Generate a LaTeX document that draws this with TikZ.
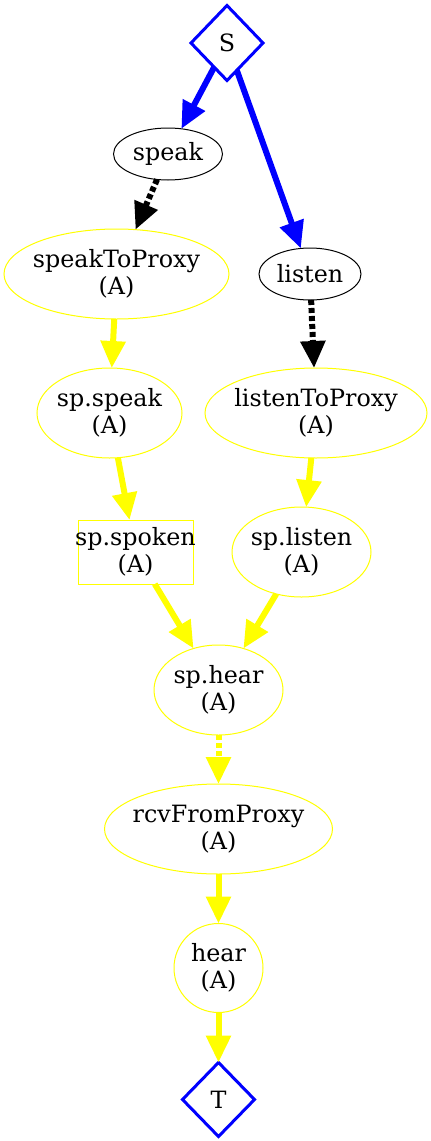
\documentclass[tikz,border=0pt]{standalone}
\usepackage{fontspec}
\setmainfont{DejaVu Serif}
\usetikzlibrary{arrows.meta,shapes.geometric}
\definecolor{gvyellow}{RGB}{255,255,0}
\definecolor{gvblue}{RGB}{0,0,255}
\begin{document}
\begin{tikzpicture}[x=0.5pt,y=-0.5pt,
  every node/.style={inner sep=0pt, outer sep=0pt, align=center, font=\fontsize{11.9}{13.2}\selectfont},
  blackell/.style={ellipse, draw=black, line width=0.5pt},
  yell/.style={ellipse, draw=gvyellow, line width=0.5pt, inner xsep=-6pt},
  ybox/.style={rectangle, draw=gvyellow, line width=0.5pt, inner xsep=-2pt},
  ycirc/.style={circle, draw=gvyellow, line width=0.5pt},
  bdia/.style={diamond, draw=gvblue, line width=1.5pt, minimum width=36pt, minimum height=37.5pt},
  conn/.style={line width=3pt, draw=#1, -{Triangle[length=13.5pt,width=12pt,fill=#1]}},
  dconn/.style={conn=#1, dash pattern=on 2.5pt off 1.5pt}
]
\useasboundingbox (0,0) rectangle (431,1141);
\node[bdia] (S) at (227,43) {S};
\node[blackell, minimum width=54.5pt, minimum height=26pt] (speak) at (168,154) {speak};
\node[yell, minimum width=112.5pt, minimum height=45pt] (s2p) at (116.5,274) {speakToProxy\\(A)};
\node[blackell, minimum width=51pt, minimum height=26pt] (listen) at (310,274) {listen};
\node[yell, minimum width=72.5pt, minimum height=45pt] (spspeak) at (109.5,413) {sp.speak\\(A)};
\node[yell, minimum width=111pt, minimum height=45pt] (l2p) at (316,413) {listenToProxy\\(A)};
\node[ybox, minimum width=57.5pt, minimum height=32pt] (spspoken) at (135.5,552) {sp.spoken\\(A)};
\node[yell, minimum width=69.5pt, minimum height=45pt] (splisten) at (301.5,552) {sp.listen\\(A)};
\node[yell, minimum width=64.5pt, minimum height=45pt] (sphear) at (218.5,690) {sp.hear\\(A)};
\node[yell, minimum width=114pt, minimum height=45pt] (rcv) at (218.5,829) {rcvFromProxy\\(A)};
\node[ycirc, minimum size=44.5pt] (hear) at (218.5,968) {hear\\(A)};
\node[bdia, minimum height=37pt] (T) at (218.5,1099.5) {T};
\draw[conn=gvblue] (S) -- (speak);
\draw[conn=gvblue] (S) -- (listen);
\draw[dconn=black] (speak) -- (s2p);
\draw[dconn=black] (listen) -- (l2p);
\draw[conn=gvyellow] (s2p) -- (spspeak);
\draw[conn=gvyellow] (l2p) -- (splisten);
\draw[conn=gvyellow] (spspeak) -- (spspoken);
\draw[conn=gvyellow] (splisten) -- (sphear);
\draw[conn=gvyellow] (spspoken) -- (sphear);
\draw[dconn=gvyellow] (sphear) -- (rcv);
\draw[conn=gvyellow] (rcv) -- (hear);
\draw[conn=gvyellow] (hear) -- (T);
\end{tikzpicture}
\end{document}
